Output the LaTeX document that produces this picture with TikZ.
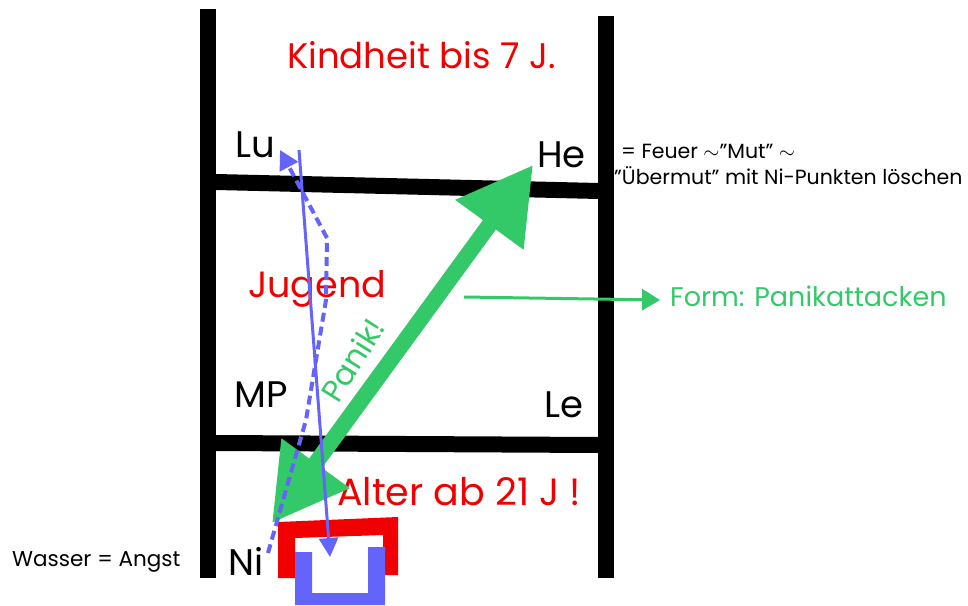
\documentclass[tikz,border=0pt]{standalone}
\usepackage{fontspec}
\setmainfont{Poppins}
\usetikzlibrary{arrows.meta}
\definecolor{gr}{RGB}{52,201,104}
\definecolor{bl}{RGB}{100,100,250}
\definecolor{rd}{RGB}{240,0,0}
\tikzset{
  bar/.style={line width=16pt},
  big/.style={font=\fontsize{37}{42}\selectfont, inner sep=0pt},
  bigred/.style={big, text=rd},
  small/.style={font=\fontsize{20.5}{24}\selectfont, inner sep=0pt},
}
\begin{document}
\begin{tikzpicture}[x=1pt,y=-1pt]
\useasboundingbox (0,0) rectangle (968,605);
% ladder
\draw[bar] (208,9) -- (208,578);
\draw[bar] (606,16) -- (606,578);
\draw[bar] (216,182) -- (599,191);
\draw[bar] (216,443) -- (599,445);
% texts
\node[bigred, anchor=base west, font=\fontsize{35.5}{40}\selectfont] (kind) at (287,68) {Kindheit bis 7 J.};
\node[big, anchor=base west] (lu) at (235,157) {Lu};
\node[big, anchor=base west] (he) at (537,167) {He};
\node[bigred, anchor=base west, font=\fontsize{36.5}{40}\selectfont] (jug) at (248,297) {Jugend};
\node[big, anchor=base west] (mp) at (234,407) {MP};
\node[big, anchor=base west] (le) at (544,417) {Le};
\node[bigred, anchor=base west, font=\fontsize{38}{42}\selectfont] (alt) at (337,505) {Alter ab 21 J !};
\node[big, anchor=base west] (ni) at (228,575) {Ni};
\node[small, anchor=base west] (f1) at (621,158) {= Feuer $\sim$"Mut" $\sim$};
\node[small, anchor=base west] (f2) at (614,184) {"Übermut" mit Ni-Punkten löschen};
\node[small, anchor=base west, font=\fontsize{21.5}{24}\selectfont] (was) at (12,566) {Wasser = Angst};
\node[text=gr, inner sep=0pt, anchor=base west, font=\fontsize{27}{32}\selectfont] (form) at (670,306) {Form: Panikattacken};
\node[text=gr, inner sep=0pt, anchor=base west, rotate=58, font=\fontsize{31}{34}\selectfont] (pan) at (338,405) {Panik!};
% red cap
\fill[rd] (278,522) -- (398,517) -- (398,575) -- (383,575) -- (383,535) -- (295,538) -- (295,578) -- (278,578) -- cycle;
% blue U
\fill[bl] (295,552) -- (312,552) -- (312,593) -- (368,593) -- (368,547) -- (385,547) -- (385,605) -- (295,605) -- cycle;
% green double arrow
\coordinate (gA) at (272,523);
\coordinate (gB) at (533,165);
\draw[gr, line width=16pt, {Triangle[length=74pt,width=80pt]}-{Triangle[length=74pt,width=80pt]}] (gA) -- (gB);
% form arrow
\coordinate (fs) at (464,297);
\coordinate (fe) at (660,300);
\draw[gr, line width=3pt, -{Triangle[length=18pt,width=21pt]}] (fs) -- (fe);
% blue solid arrow
\coordinate (bs) at (299,150);
\coordinate (be) at (330,557);
\draw[bl, line width=3pt, -{Triangle[length=19pt,width=19pt]}] (bs) -- (be);
% blue dashed arrow
\coordinate (ds) at (268,553);
\coordinate (de) at (280,150);
\draw[bl, line width=4pt, dash pattern=on 9pt off 5pt, -{Triangle[length=19pt,width=20pt]}] (ds) -- (306,420) -- (326,300) -- (327,238) -- (de);
\end{tikzpicture}
\end{document}
